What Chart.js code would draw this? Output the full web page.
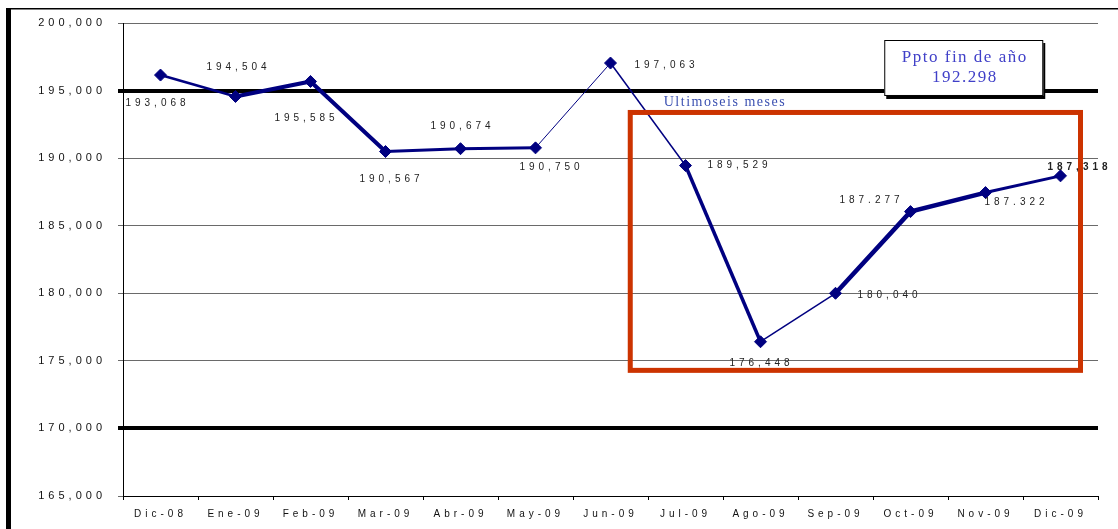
<!DOCTYPE html>
<html>
<head>
<meta charset="utf-8">
<script src="https://cdn.jsdelivr.net/npm/chart.js@4/dist/chart.umd.min.js"></script>
<style>
  html, body { margin: 0; padding: 0; background: #fff; }
  #wrap { position: relative; width: 1118px; height: 529px; }
</style>
</head>
<body>
<div id="wrap"><canvas id="chart"></canvas></div>
<script>
// Monthly series Dic-08 .. Dic-09
const months = ['Dic-08','Ene-09','Feb-09','Mar-09','Abr-09','May-09','Jun-09',
                'Jul-09','Ago-09','Sep-09','Oct-09','Nov-09','Dic-09'];
const values = [196148, 194563, 195674, 190489, 190700, 190760, 197037,
                189452, 176415, 180000, 186044, 187452, 188689];
// value labels as printed on the original (they don't always match the points)
const pointLabels = ['193,068','194,504','195,585','190,567','190,674','190,750','197,063',
                     '189,529','176,448','180,040','187.277','187.322','187,318'];
const yMin = 165000, yMax = 200000, yStep = 5000;
const thickLines = [195000, 170000];
const budgetTitle = 'Ppto fin de año';
const budgetValue = '192.298';
const periodNote = 'Ultimoseis meses';

// styling / placement (pixels relative to each point)
const labelOffsets = [[-3,28],[3,-29],[-4,37],[6,28],[2,-22],[16,19],[56,2],
                      [54,0],[1,22],[54,2],[-39,-11],[31,10],[19,-9]];
const segWidths = [2.5, 4, 4, 3, 3, 1, 1.5, 3.5, 1.5, 4.5, 4.5, 3];
const NAVY = '#000080';

const fmt = v => v.toLocaleString('en-US');

const spacing = {
  id: 'spacing',
  beforeLayout(chart){ chart.ctx.letterSpacing = '4px'; },
  beforeDraw(chart){ chart.ctx.letterSpacing = '4px'; }
};

const frame = {
  id: 'frame',
  beforeDraw(chart){
    const ctx = chart.ctx;
    ctx.save();
    ctx.fillStyle = '#000';
    ctx.fillRect(6, 8, 5, chart.height - 8);
    ctx.fillRect(6, 8, chart.width - 6, 1.5);
    ctx.restore();
  }
};

const labels = {
  id: 'labels',
  afterDatasetsDraw(chart){
    const ctx = chart.ctx;
    const pts = chart.getDatasetMeta(0).data;
    ctx.save();
    ctx.letterSpacing = '4px';
    ctx.fillStyle = '#222';
    ctx.textAlign = 'center';
    ctx.textBaseline = 'middle';
    pts.forEach((p, i) => {
      const last = i === pts.length - 1;
      ctx.font = (last ? 'bold ' : '') + '10px "Liberation Sans", Arial, sans-serif';
      ctx.fillText(pointLabels[i], p.x + labelOffsets[i][0], p.y + labelOffsets[i][1]);
    });
    ctx.restore();
  }
};

const notes = {
  id: 'notes',
  afterDraw(chart){
    const ctx = chart.ctx;
    const x = chart.scales.x, y = chart.scales.y;
    ctx.save();

    // red frame around the last six months
    const rx0 = x.getPixelForValue(6.23), rx1 = x.getPixelForValue(12.3);
    const ry0 = y.getPixelForValue(193565), ry1 = y.getPixelForValue(174112);
    ctx.strokeStyle = '#cc3300';
    ctx.lineWidth = 5;
    ctx.strokeRect(rx0 + 2.5, ry0 + 2.5, rx1 - rx0 - 5, ry1 - ry0 - 5);

    ctx.letterSpacing = '1.5px';
    ctx.fillStyle = '#3a4fb0';
    ctx.font = '14px "Liberation Serif", "Times New Roman", serif';
    ctx.textAlign = 'left';
    ctx.textBaseline = 'middle';
    ctx.fillText(periodNote, x.getPixelForValue(6.71), y.getPixelForValue(194156));

    // budget box
    const bx0 = x.getPixelForValue(9.65), bx1 = x.getPixelForValue(11.77);
    const by0 = y.getPixelForValue(198742), by1 = y.getPixelForValue(194600);
    ctx.fillStyle = '#000';
    ctx.fillRect(bx0 + 2, by0 + 3, bx1 - bx0, by1 - by0);
    ctx.fillStyle = '#fff';
    ctx.fillRect(bx0, by0, bx1 - bx0, by1 - by0);
    ctx.strokeStyle = '#000';
    ctx.lineWidth = 1;
    ctx.strokeRect(bx0 + 0.5, by0 + 0.5, bx1 - bx0 - 1, by1 - by0 - 1);
    ctx.fillStyle = '#4040c8';
    ctx.font = '17px "Liberation Serif", "Times New Roman", serif';
    ctx.textAlign = 'center';
    const cx = (bx0 + bx1) / 2 + 1, cy = (by0 + by1) / 2;
    ctx.fillText(budgetTitle, cx, cy - 10);
    ctx.fillText(budgetValue, cx, cy + 10);
    ctx.restore();
  }
};

new Chart(document.getElementById('chart'), {
  type: 'line',
  data: {
    labels: months,
    datasets: [{
      data: values,
      borderColor: NAVY,
      backgroundColor: NAVY,
      borderWidth: 2,
      tension: 0,
      pointStyle: 'rectRot',
      pointRadius: 6,
      pointBorderWidth: 1,
      segment: { borderWidth: c => segWidths[c.p0DataIndex] }
    }]
  },
  options: {
    responsive: true,
    maintainAspectRatio: false,
    animation: false,
    layout: { padding: { left: 0, right: 20, top: 23, bottom: 0 } },
    plugins: { legend: { display: false }, tooltip: { enabled: false } },
    scales: {
      x: {
        offset: true,
        afterFit: s => { s.height = 33; },
        grid: { drawOnChartArea: false, offset: true, color: '#000', tickLength: 4 },
        border: { color: '#000', width: 1 },
        ticks: { color: '#111', padding: 8, maxRotation: 0, autoSkip: false,
                 font: { family: '"Liberation Sans", Arial, sans-serif', size: 10 } }
      },
      y: {
        min: yMin, max: yMax,
        afterFit: s => { s.width = 123; },
        grid: {
          color: c => thickLines.includes(c.tick.value) ? '#000' : '#6a6a6a',
          lineWidth: c => thickLines.includes(c.tick.value) ? 4 : 1,
          tickLength: 5
        },
        border: { color: '#000', width: 1 },
        ticks: { stepSize: yStep, color: '#111', padding: 12, callback: v => fmt(v),
                 font: { family: '"Liberation Sans", Arial, sans-serif', size: 11 } }
      }
    }
  },
  plugins: [spacing, frame, labels, notes]
});
</script>
</body>
</html>
